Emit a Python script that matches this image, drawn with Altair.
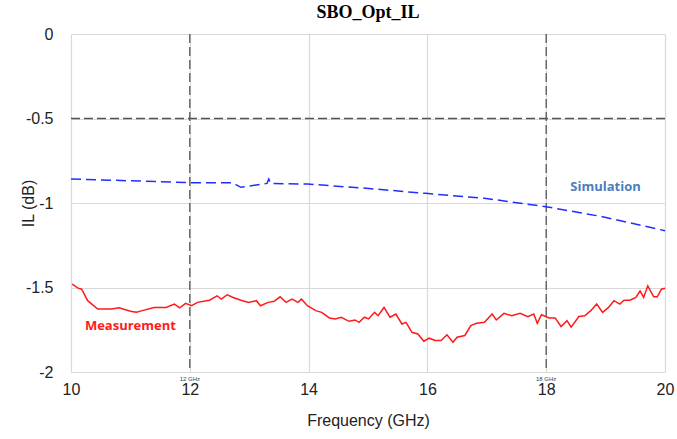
import altair as alt
import pandas as pd

# Measurement (red, solid)
meas_f = [10.02, 10.12, 10.18, 10.28, 10.35, 10.45, 10.68, 10.81, 11.0, 11.1, 11.2, 11.4, 11.6, 11.74, 11.83, 11.93,
          12.03, 12.13, 12.33, 12.46, 12.53, 12.63, 12.73, 12.86, 12.99, 13.12, 13.19, 13.32, 13.42, 13.52, 13.62,
          13.72, 13.82, 13.88, 13.98, 14.12, 14.22, 14.35, 14.45, 14.55, 14.68, 14.78, 14.85, 14.94, 15.01, 15.11,
          15.17, 15.27, 15.37, 15.47, 15.57, 15.64, 15.74, 15.84, 15.94, 16.03, 16.13, 16.23, 16.33, 16.43, 16.5,
          16.63, 16.73, 16.83, 16.96, 17.09, 17.16, 17.29, 17.42, 17.56, 17.69, 17.79, 17.85, 17.92, 18.05, 18.15,
          18.25, 18.35, 18.42, 18.55, 18.65, 18.75, 18.85, 18.95, 19.05, 19.14, 19.24, 19.31, 19.41, 19.51, 19.58,
          19.64, 19.71, 19.81, 19.87, 19.94, 20.0]
meas_il = [-1.48, -1.504, -1.51, -1.578, -1.598, -1.627, -1.627, -1.62, -1.641, -1.647, -1.637, -1.618, -1.618,
           -1.598, -1.62, -1.594, -1.608, -1.588, -1.575, -1.549, -1.569, -1.543, -1.559, -1.575, -1.588, -1.578,
           -1.608, -1.588, -1.582, -1.555, -1.588, -1.569, -1.588, -1.569, -1.608, -1.637, -1.647, -1.68, -1.686,
           -1.676, -1.7, -1.692, -1.706, -1.676, -1.686, -1.647, -1.667, -1.618, -1.676, -1.657, -1.716, -1.706,
           -1.765, -1.775, -1.818, -1.8, -1.814, -1.814, -1.78, -1.824, -1.794, -1.784, -1.725, -1.712, -1.706,
           -1.657, -1.692, -1.653, -1.667, -1.653, -1.672, -1.657, -1.712, -1.661, -1.68, -1.68, -1.731, -1.696,
           -1.735, -1.672, -1.667, -1.637, -1.598, -1.647, -1.618, -1.578, -1.598, -1.575, -1.575, -1.559, -1.52,
           -1.559, -1.49, -1.555, -1.555, -1.51, -1.504]

# Simulation (blue, dashed)
sim_f = [10.0, 11.14, 12.0, 12.72, 12.86, 13.12, 13.3, 13.33, 13.36, 13.98, 14.97, 15.97, 16.96, 18.0, 18.95, 20.0]
sim_il = [-0.858, -0.870, -0.880, -0.880, -0.907, -0.893, -0.884, -0.858, -0.884, -0.888, -0.913, -0.943, -0.972,
          -1.022, -1.081, -1.164]

x_ticks = [10, 12, 14, 16, 18, 20]
y_ticks = [0, -0.5, -1, -1.5, -2]
marker_f = [12, 18]
marker_labels = ["12 GHz", "18 GHz"]
ref_il = [-0.5]

meas_df = pd.DataFrame({"f": meas_f, "il": meas_il})
sim_df = pd.DataFrame({"f": sim_f, "il": sim_il})
mark_df = pd.DataFrame({"f": marker_f, "lab": marker_labels, "il": [-2, -2]})
ref_df = pd.DataFrame({"il": ref_il})

xs = alt.Scale(domain=[10, 20], nice=False, zero=False)
ys = alt.Scale(domain=[-2, 0], nice=False, zero=False)

x_enc = alt.X("f:Q", scale=xs, title="Frequency (GHz)",
              axis=alt.Axis(values=x_ticks, grid=True, ticks=False, domain=False, labelPadding=9,
                            labelExpr="'' + datum.value", labelFlush=False,
                            labelFontSize=16, titleFontSize=16, titlePadding=15, labelFont="Liberation Sans",
                            titleFont="Liberation Sans", labelColor="#222", titleColor="#222", titleFontWeight="normal",
                            gridColor="#d9d9d9", gridWidth=1.2))
y_enc = alt.Y("il:Q", scale=ys, title="IL (dB)",
              axis=alt.Axis(values=y_ticks, grid=True, ticks=False, domain=False, labelPadding=18,
                            labelExpr="'' + datum.value", labelFlush=False,
                            labelFontSize=16, titleFontSize=16, titleX=-35, titleY=169, titleAngle=270,
                            titleBaseline="bottom", titleAlign="center", labelFont="Liberation Sans",
                            titleFont="Liberation Sans", labelColor="#222", titleColor="#222", titleFontWeight="normal",
                            gridColor="#d9d9d9", gridWidth=1.2))

meas = alt.Chart(meas_df).mark_line(color="#ff1a1a", strokeWidth=1.5).encode(x=x_enc, y=y_enc)
sim = alt.Chart(sim_df).mark_line(color="#1f2fff", strokeWidth=1.5, strokeDash=[10, 5]).encode(
    x=alt.X("f:Q", scale=xs), y=alt.Y("il:Q", scale=ys))

vlines = alt.Chart(mark_df).mark_rule(color="#555555", strokeWidth=1.3, strokeDash=[9, 4]).encode(
    x=alt.X("f:Q", scale=xs))
vlabels = alt.Chart(mark_df).mark_text(fontSize=6, font="Liberation Sans", color="#444", dy=7).encode(
    x=alt.X("f:Q", scale=xs), y=alt.Y("il:Q", scale=ys), text="lab:N")
hline = alt.Chart(ref_df).mark_rule(color="#555555", strokeWidth=1.3, strokeDash=[9, 4]).encode(
    y=alt.Y("il:Q", scale=ys))

lab_df = pd.DataFrame({"f": [19.0, 11.0], "il": [-0.905, -1.728], "t": ["Simulation", "Measurement"],
                       "c": ["#4a7ebb", "#ff1a1a"]})
labels = alt.Chart(lab_df).mark_text(fontSize=13, fontWeight="bold", font="Open Sans").encode(
    x=alt.X("f:Q", scale=xs), y=alt.Y("il:Q", scale=ys), text="t:N",
    color=alt.Color("c:N", scale=None))

chart = alt.layer(vlines, hline, sim, meas, labels, vlabels).properties(
    width=594, height=338,
    title=alt.TitleParams("SBO_Opt_IL", font="Liberation Serif", fontSize=18, fontWeight="bold",
                          color="#000", anchor="middle", offset=4),
    autosize=alt.AutoSizeParams(type="none"),
    padding={"left": 71, "top": 34, "right": 12, "bottom": 67},
).configure_view(stroke="#888888", strokeWidth=1.5).configure(background="white")

chart.save("out.html", embed_options={"renderer": "svg", "actions": False})
